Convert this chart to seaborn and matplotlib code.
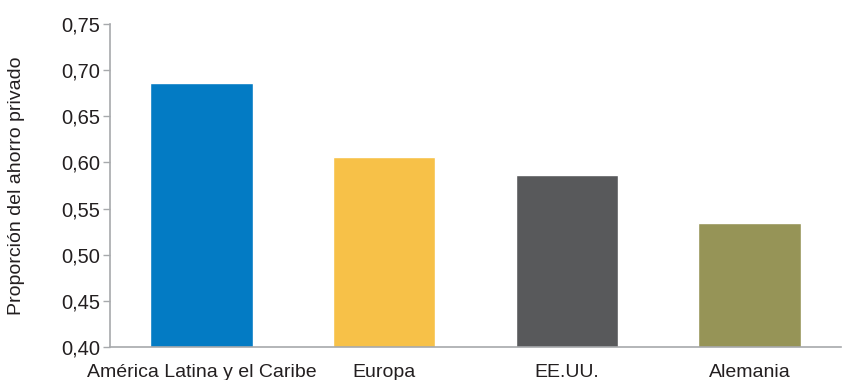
import matplotlib
matplotlib.use("Agg")
import matplotlib.pyplot as plt
import seaborn as sns
import pandas as pd
from matplotlib import font_manager

categories = ["América Latina y el Caribe", "Europa", "EE.UU.", "Alemania"]
values = [0.686, 0.606, 0.586, 0.534]
colors = ["#037BC4", "#F7C148", "#58595B", "#969457"]
yticks = [0.40, 0.45, 0.50, 0.55, 0.60, 0.65, 0.70, 0.75]

sns.set_style("white")
names = {f.name for f in font_manager.fontManager.ttflist}
fam = "Liberation Sans Narrow" if "Liberation Sans Narrow" in names else "Liberation Sans"
plt.rcParams["font.family"] = [fam, "DejaVu Sans"]

df = pd.DataFrame({"cat": categories, "val": values})
fig = plt.figure(figsize=(8.43, 3.8), dpi=100)
ax = fig.add_axes([0.1305, 0.0868, 0.867, 0.850])
sns.barplot(data=df, x="cat", y="val", hue="cat", palette=colors, legend=False,
            width=0.56, ax=ax, saturation=1)
ax.set_ylim(0.40, 0.75)
ax.set_xlim(-0.5, 3.5)
ax.set_yticks(yticks)
ax.set_yticklabels([f"{t:.2f}".replace(".", ",") for t in yticks], fontsize=14.5, color="#231F20")
ax.set_xticks(range(len(categories)))
ax.set_xticklabels(categories, fontsize=14, color="#231F20")
ax.tick_params(axis="y", length=5, width=1, color="#A7A9AC", pad=2, left=True)
ax.tick_params(axis="x", length=0, pad=12)
ax.set_xlabel("")
ax.set_ylabel("Proporción del ahorro privado", fontsize=14, color="#231F20", labelpad=26)
for s in ["top", "right"]:
    ax.spines[s].set_visible(False)
for s in ["left", "bottom"]:
    ax.spines[s].set_color("#A7A9AC")
    ax.spines[s].set_linewidth(1.2)
fig.savefig("out.png", dpi=100)
